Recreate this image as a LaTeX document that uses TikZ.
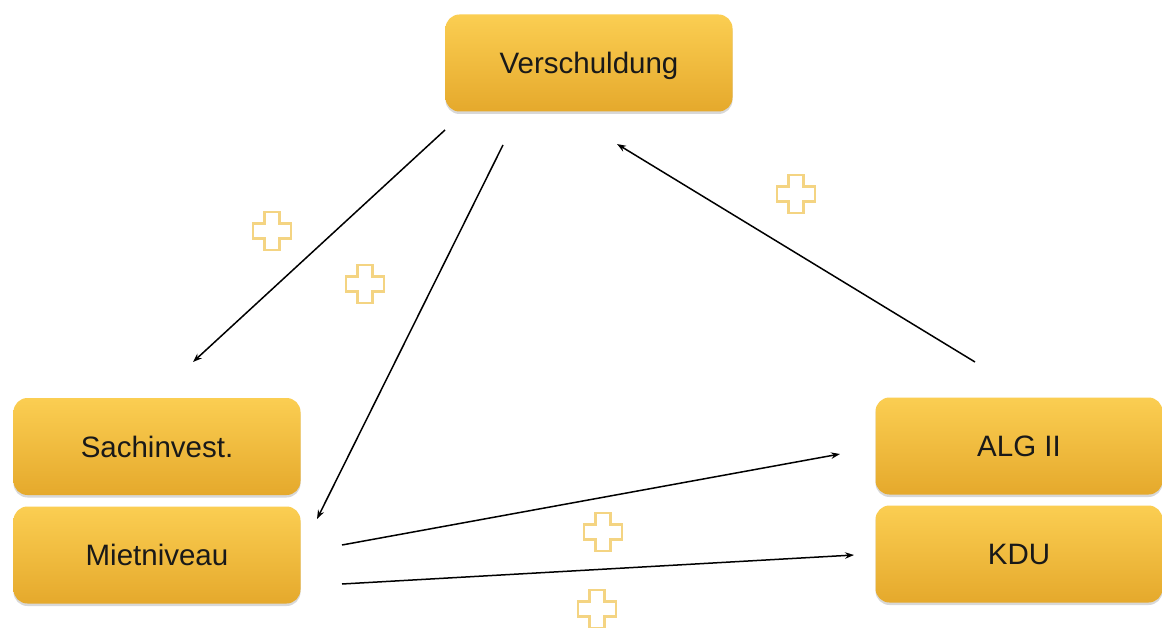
\documentclass[tikz,border=0pt]{standalone}
\usepackage{fontspec}
\setmainfont{Liberation Sans}
\usetikzlibrary{arrows.meta,shadows}
\definecolor{boxtop}{RGB}{251,206,82}
\definecolor{boxbottom}{RGB}{229,169,44}
\definecolor{plusgold}{RGB}{244,212,130}
\tikzset{
  factor/.style={rectangle, rounded corners=14pt, minimum width=287pt,
    minimum height=97pt, inner sep=0pt, top color=boxtop, bottom color=boxbottom,
    draw=none, font=\fontsize{29.5pt}{34pt}\selectfont, text=black!90,
    text height=21pt, text depth=0pt,
    drop shadow={shadow xshift=0pt, shadow yshift=-2.5pt, opacity=0.25, fill=black!60}},
  link/.style={draw=black, line width=1.5pt, -{Stealth[length=9pt,width=6.5pt]}},
  plusline/.style={draw=plusgold, line width=2.2pt, fill=white, line join=miter},
  plussign/.pic={
    \path[plusline] (-7.5,-19) -- (7.5,-19) -- (7.5,-7.5) -- (19,-7.5) -- (19,7.5)
      -- (7.5,7.5) -- (7.5,19) -- (-7.5,19) -- (-7.5,7.5) -- (-19,7.5) -- (-19,-7.5)
      -- (-7.5,-7.5) -- cycle;
  }
}
\begin{document}
\begin{tikzpicture}[x=1pt,y=-1pt]
  \fill[white] (0,0) rectangle (1162,628);
  \useasboundingbox (0,0) rectangle (1162,628);

  % boxes
  \node[factor] (vs) at (589,63) {Verschuldung};
  \node[factor] (si) at (157,446.5) {Sachinvest.};
  \node[factor] (mn) at (157,555) {Mietniveau};
  \node[factor] (alg) at (1019,446) {ALG II};
  \node[factor] (kdu) at (1019,554) {KDU};

  % free ends of the arrows
  \coordinate (vsA) at (445,130);
  \coordinate (siA) at (193,362);
  \coordinate (vsB) at (503,145);
  \coordinate (mnB) at (317,519);
  \coordinate (algC) at (975,362);
  \coordinate (vsC) at (617,144);
  \coordinate (mnD) at (342,545);
  \coordinate (algD) at (840,454);
  \coordinate (mnE) at (342,584);
  \coordinate (kduE) at (854,555);

  \draw[link] (vsA) -- (siA);
  \draw[link] (vsB) -- (mnB);
  \draw[link] (algC) -- (vsC);
  \draw[link] (mnD) -- (algD);
  \draw[link] (mnE) -- (kduE);

  % positive influence marks
  \pic at (272,231) {plussign};
  \pic at (365,284) {plussign};
  \pic at (796,194) {plussign};
  \pic at (603,532) {plussign};
  \pic at (597,609) {plussign};
\end{tikzpicture}
\end{document}
